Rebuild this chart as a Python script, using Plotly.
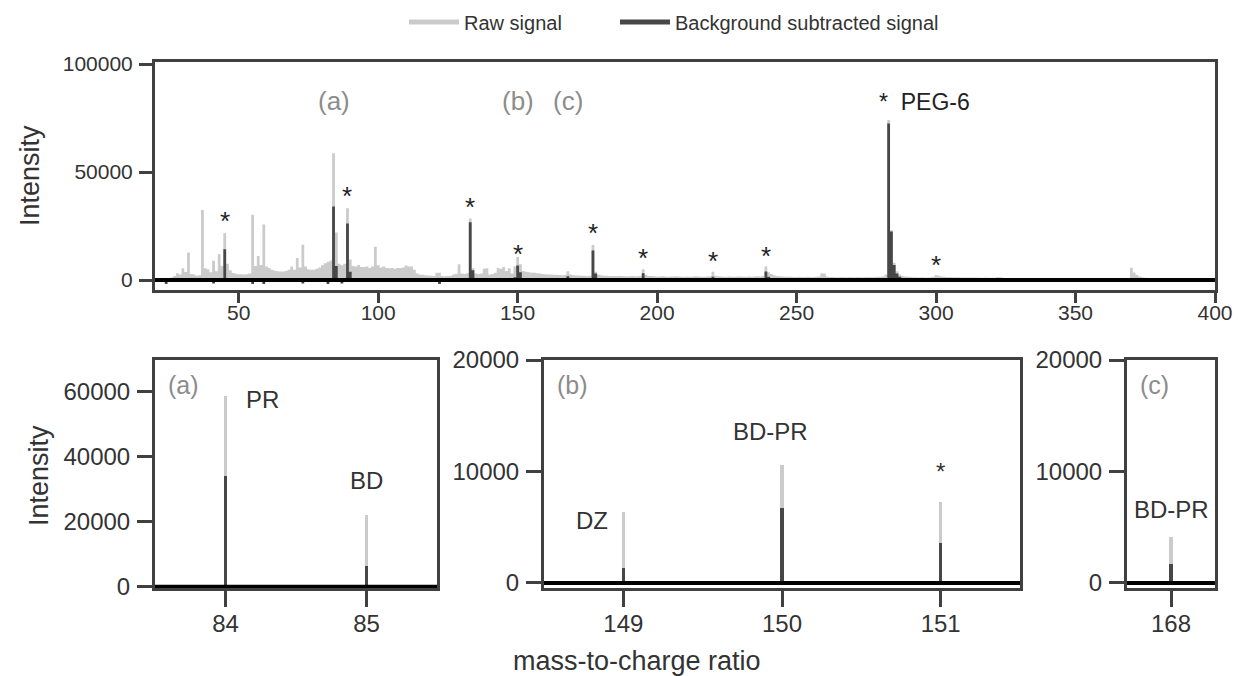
import plotly.graph_objects as go

# ---------------- data ----------------
mz_start = 20
raw_signal = [
    0, 0, 0, 0, 300, 700, 1200, 1800, 3100, 2600,                 # 20-29
    5400, 3700, 12700, 2800, 2500, 2000, 2200, 32400, 5400, 5000,  # 30-39
    3600, 8900, 4000, 11900, 6500, 21600, 7500, 4500, 3200, 2900,  # 40-49
    2700, 2700, 2600, 2700, 3000, 30200, 6500, 11100, 7000, 25700, # 50-59
    6200, 5500, 4800, 4300, 4000, 3900, 3900, 4200, 4800, 6200,    # 60-69
    4800, 10200, 5800, 16300, 6200, 5000, 4700, 4800, 5200, 5800,  # 70-79
    6800, 7800, 8300, 9000, 58700, 22000, 7500, 6800, 7500, 33200, # 80-89
    9500, 6500, 6200, 7000, 6000, 6000, 6300, 5500, 6200, 15400,   # 90-99
    6800, 5800, 6300, 5600, 5400, 5600, 5200, 5500, 5600, 5800,    # 100-109
    6700, 6200, 6300, 4800, 3000, 2600, 2400, 2200, 2100, 2000,    # 110-119
    1900, 3400, 3300, 1800, 1700, 1800, 2000, 2600, 2900, 7300,    # 120-129
    3000, 2800, 3100, 28500, 5400, 3000, 2800, 3000, 5200, 5400,   # 130-139
    2600, 2800, 3400, 5600, 5200, 6000, 4200, 5400, 3000, 6400,    # 140-149
    10600, 7300, 4200, 3800, 3600, 3400, 3300, 3100, 3000, 2800,   # 150-159
    2700, 2600, 2500, 2400, 2400, 2300, 2200, 2300, 4100, 2600,    # 160-169
    2200, 2100, 2100, 2000, 2000, 1900, 2000, 16200, 3800, 2400,   # 170-179
    2200, 2000, 2000, 1900, 1900, 1800, 1800, 1800, 1700, 1700,    # 180-189
    1700, 1800, 1700, 1700, 1800, 5000, 2400, 1900, 1800, 1700,    # 190-199
    1600, 1600, 1700, 1600, 1500, 1600, 1600, 1700, 1600, 1500,    # 200-209
    1500, 1600, 1500, 1600, 1700, 1600, 1500, 1500, 1600, 1700,    # 210-219
    3800, 2000, 1700, 1600, 1500, 1500, 1600, 1500, 1500, 1600,    # 220-229
    1600, 1500, 1500, 1600, 1500, 1600, 1700, 1600, 1800, 6200,    # 230-239
    3600, 2800, 2200, 1800, 1700, 1600, 1500, 1500, 1500, 1400,    # 240-249
    1400, 1500, 1400, 1400, 1500, 1400, 1400, 1500, 1600, 3100,    # 250-259
    3000, 1600, 1400, 1400, 1300, 1300, 1400, 1300, 1300, 1400,    # 260-269
    1300, 1300, 1400, 1300, 1300, 1400, 1400, 1300, 1400, 1500,    # 270-279
    1500, 1600, 2500, 74100, 23000, 8000, 4000, 2500, 1800, 1600,  # 280-289
    1500, 1400, 1300, 1300, 1200, 1300, 1200, 1200, 1300, 1500,    # 290-299
    2300, 2000, 1600, 1500, 1400, 1400, 1300, 1300, 1300, 1200,    # 300-309
    1200, 1200, 1200, 1100, 1100, 1100, 1000, 1000, 1100, 1000,    # 310-319
    1000, 1000, 1300, 1300, 1000, 900, 900, 900, 900, 900,         # 320-329
    900, 900, 900, 900, 900, 800, 800, 800, 800, 800,              # 330-339
    800, 800, 800, 800, 800, 800, 800, 800, 800, 800,              # 340-349
    800, 800, 700, 700, 700, 700, 700, 700, 700, 700,              # 350-359
    700, 700, 700, 700, 700, 700, 700, 700, 700, 800,              # 360-369
    5700, 3500, 2300, 1600, 1200, 1000, 900, 900, 800, 800,        # 370-379
    800, 800, 700, 700, 700, 700, 700, 700, 800, 800,              # 380-389
    800, 700, 700, 700, 700, 700, 700, 700, 700, 700,              # 390-399
    600,                                                           # 400
]
raw_mz = list(range(mz_start, mz_start + len(raw_signal)))

sub_mz = [24, 41, 45, 55, 59, 73, 82, 84, 85, 87, 89, 90, 122, 133, 134,
          149, 150, 151, 168, 177, 178, 195, 220, 239, 240, 259,
          283, 284, 285, 286, 287, 300]
sub_signal = [-1800, -1600, 14200, -1800, -1800, -1600, -1800, 34000, 6500, -1600,
              26200, 3800, -1800, 26700, 4500, 1300, 6700, 3600, 1700, 13600,
              3000, 3100, 1500, 3900, 1500, 800, 72500, 22400, 7000, 3000, 1500, 800]

# asterisk markers (m/z and the height at which each asterisk sits)
star_mz = [45, 89, 133, 150, 177, 195, 220, 239, 300]
star_height = [30100, 41700, 36600, 14700, 24400, 13100, 11600, 13900, 9700]
peg_mz = 283
peg_height = 83200
region_mz = [84, 150, 168]
region_labels = ["(a)", "(b)", "(c)"]
region_height = 83000

top_xticks = [50, 100, 150, 200, 250, 300, 350, 400]
top_yticks = [0, 50000, 100000]
a_xticks = [84, 85]
a_yticks = [0, 20000, 40000, 60000]
b_xticks = [149, 150, 151]
c_xticks = [168]
bc_yticks = [0, 10000, 20000]

# peak labels in zoom panels: (panel, m/z, label height, text)
zoom_labels = [
    ("a", 84.26, 57500, "PR"),
    ("a", 85.0, 32600, "BD"),
    ("b", 148.8, 5600, "DZ"),
    ("b", 149.93, 13600, "BD-PR"),
    ("b", 151.0, 10000, "*"),
    ("c", 168.0, 6600, "BD-PR"),
]

# ---------------- style ----------------
W, H = 1238, 676
FONT = "Liberation Sans, Arial, sans-serif"
RAW_C = "#cbcbcb"
SUB_C = "#474747"
FRAME_C = "#404040"
TXT_C = "#333333"
LAB_C = "#8c8c8c"


def px(p):
    return p / W


def py(p):
    return 1 - p / H


def xd(p0, p1):
    return [px(p0), px(p1)]


def yd(p_top, p_bot):
    return [py(p_bot), py(p_top)]


panels = {
    "top": dict(ax="", xdom=xd(155, 1215), ydom=yd(62, 290), xr=[20, 400], yr=[-4630, 100930],
                xt=top_xticks, yt=top_yticks, xmin=20, xmax=400, width=1.0,
                fs=21, xlen=10, xoff=-8, ylen=13),
    "a": dict(ax="2", xdom=xd(155, 437), ydom=yd(360, 588), xr=[83.5, 85.5], yr=[-400, 69800],
              xt=a_xticks, yt=a_yticks, xmin=83.5, xmax=85.5, width=0.022,
              fs=24, xlen=16, xoff=-4, ylen=15),
    "b": dict(ax="3", xdom=xd(544, 1020), ydom=yd(360, 588), xr=[148.5, 151.5], yr=[-450, 20000],
              xt=b_xticks, yt=bc_yticks, xmin=148.5, xmax=151.5, width=0.02,
              fs=24, xlen=16, xoff=-4, ylen=15),
    "c": dict(ax="4", xdom=xd(1127, 1215), ydom=yd(360, 588), xr=[167.72, 168.28], yr=[-450, 20000],
              xt=c_xticks, yt=bc_yticks, xmin=167.72, xmax=168.28, width=0.02,
              fs=24, xlen=16, xoff=-4, ylen=15),
}

fig = go.Figure()
layout = dict(
    width=W, height=H, margin=dict(l=0, r=0, t=0, b=0, autoexpand=False),
    paper_bgcolor="white", plot_bgcolor="white",
    font=dict(family=FONT, color=TXT_C, size=22),
    barmode="overlay", bargap=0,
    showlegend=True,
    legend=dict(orientation="h", xref="container", yref="container", itemwidth=50,
                x=px(404), xanchor="left", y=py(22), yanchor="middle",
                font=dict(size=20, color=TXT_C), bgcolor="rgba(0,0,0,0)"),
    legend2=dict(orientation="h", xref="container", yref="container", itemwidth=50,
                 x=px(615), xanchor="left", y=py(22), yanchor="middle",
                 font=dict(size=20, color=TXT_C), bgcolor="rgba(0,0,0,0)"),
)

shapes = []
annotations = []

for key, p in panels.items():
    ax = p["ax"]
    xa, ya = "x" + ax, "y" + ax
    rx = [m for m in raw_mz if p["xmin"] <= m <= p["xmax"]]
    ry = [raw_signal[raw_mz.index(m)] for m in rx]
    if key == "top":
        sub_full = [sub_signal[sub_mz.index(m)] if m in sub_mz else 0 for m in rx]
        fig.add_trace(go.Scatter(x=rx, y=ry, mode="lines", line=dict(shape="hvh", width=0, color=RAW_C),
                                 fill="tozeroy", fillcolor=RAW_C,
                                 xaxis=xa, yaxis=ya, showlegend=False, hoverinfo="skip"))
        fig.add_trace(go.Scatter(x=rx, y=sub_full, mode="lines", line=dict(shape="hvh", width=0, color=SUB_C),
                                 fill="tozeroy", fillcolor=SUB_C,
                                 xaxis=xa, yaxis=ya, showlegend=False, hoverinfo="skip"))
    else:
        sx = [m for m in sub_mz if p["xmin"] <= m <= p["xmax"]]
        sy = [sub_signal[sub_mz.index(m)] for m in sx]
        fig.add_trace(go.Bar(x=rx, y=ry, width=p["width"], marker=dict(color=RAW_C, line=dict(width=0)),
                             xaxis=xa, yaxis=ya, showlegend=False, hoverinfo="skip"))
        fig.add_trace(go.Bar(x=sx, y=sy, width=p["width"], marker=dict(color=SUB_C, line=dict(width=0)),
                             xaxis=xa, yaxis=ya, showlegend=False, hoverinfo="skip"))
    axis_common = dict(showline=True, mirror=True, linecolor=FRAME_C, linewidth=3,
                       ticks="outside", tickwidth=3, tickcolor=FRAME_C,
                       showgrid=False, zeroline=False, tickfont=dict(size=p["fs"], color=TXT_C),
                       tickformat="d", automargin=False)
    xname = "xaxis" + ax
    yname = "yaxis" + ax
    layout[xname] = dict(axis_common, domain=p["xdom"], range=p["xr"], tickvals=p["xt"],
                         anchor=ya, ticklen=p["xlen"], ticklabelstandoff=p["xoff"])
    layout[yname] = dict(axis_common, domain=p["ydom"], range=p["yr"], tickvals=p["yt"],
                         anchor=xa, ticklen=p["ylen"], ticklabelstandoff=2)
    shapes.append(dict(type="line", xref=xa + " domain", yref=ya, x0=0, x1=1, y0=0, y1=0,
                       line=dict(color="black", width=4), layer="above"))

# legend proxies
fig.add_trace(go.Scatter(x=[None], y=[None], mode="lines", name="Raw signal",
                         line=dict(color=RAW_C, width=5), legend="legend"))
fig.add_trace(go.Scatter(x=[None], y=[None], mode="lines", name="Background subtracted signal",
                         line=dict(color=SUB_C, width=5), legend="legend2"))

# stars in top panel
for m, h in zip(star_mz, star_height):
    annotations.append(dict(x=m, y=h, xref="x", yref="y", text="*", showarrow=False,
                            yanchor="middle", yshift=-6, font=dict(size=26, color="#222222")))
annotations.append(dict(x=peg_mz, y=peg_height, xref="x", yref="y", text="*  PEG-6", showarrow=False,
                        xanchor="left", xshift=-12, yanchor="middle", yshift=-2,
                        font=dict(size=23, color="#222222")))
for m, t in zip(region_mz, region_labels):
    annotations.append(dict(x=m, y=region_height, xref="x", yref="y", text=t, showarrow=False,
                            yanchor="middle", font=dict(size=26, color=LAB_C)))

# panel letters in zoom panels
for key, t in zip(["a", "b", "c"], region_labels):
    ax = panels[key]["ax"]
    annotations.append(dict(x=0.0, y=1.0, xref="x" + ax + " domain", yref="y" + ax + " domain",
                            text=t, showarrow=False, xanchor="left", yanchor="top",
                            xshift=11, yshift=-9, font=dict(size=25, color=LAB_C)))

for key, m, v, t in zoom_labels:
    ax = panels[key]["ax"]
    annotations.append(dict(x=m, y=v, xref="x" + ax, yref="y" + ax, text=t, showarrow=False,
                            yanchor="middle", font=dict(size=24, color=TXT_C)))

# axis titles
annotations.append(dict(x=px(30), y=py(176), xref="paper", yref="paper", text="Intensity",
                        textangle=-90, showarrow=False, xanchor="center", yanchor="middle",
                        font=dict(size=27, color=TXT_C)))
annotations.append(dict(x=px(39), y=py(476), xref="paper", yref="paper", text="Intensity",
                        textangle=-90, showarrow=False, xanchor="center", yanchor="middle",
                        font=dict(size=27, color=TXT_C)))
annotations.append(dict(x=px(637), y=py(661), xref="paper", yref="paper",
                        text="mass-to-charge ratio", showarrow=False, xanchor="center",
                        yanchor="middle", font=dict(size=27, color=TXT_C)))

layout["shapes"] = shapes
layout["annotations"] = annotations
fig.update_layout(**layout)
fig.write_html("out.html", config={"displayModeBar": False},
               post_script="document.body.style.margin='0';document.body.style.overflow='hidden';")
